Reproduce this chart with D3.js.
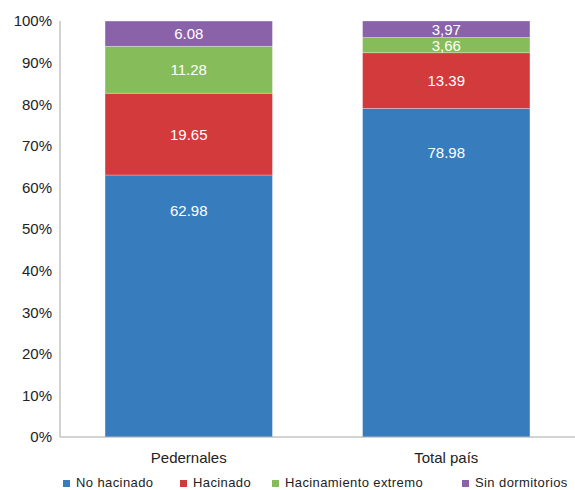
<!DOCTYPE html>
<html><head><meta charset="utf-8">
<script src="https://cdn.jsdelivr.net/npm/d3@7"></script>
<style>body{margin:0;background:#fff}svg{display:block}text{font-family:"Liberation Sans",Arial,sans-serif}</style>
</head><body>
<svg id="c" width="575" height="490"></svg>
<script>
const categories = ["Pedernales", "Total país"];
const seriesNames = ["No hacinado", "Hacinado", "Hacinamiento extremo", "Sin dormitorios"];
const noHacinado = [62.98, 78.98];
const hacinado = [19.65, 13.39];
const hacinamientoExtremo = [11.28, 3.66];
const sinDormitorios = [6.08, 3.97];
const labelText = [["62.98","19.65","11.28","6.08"],["78.98","13.39","3,66","3,97"]];
const yTicks = [0,10,20,30,40,50,60,70,80,90,100];
const colors = ["#377dbe", "#d23a3b", "#86bd5a", "#8a62aa"];
// relative position of the value label within each series' segment (0 = bottom, 1 = top)
const labelFrac = [0.865, 0.5, 0.5, 0.5];

(function(){
const svg = d3.select("#c");
const mLeft = 60, mRight = 575, mTop = 21, mBottom = 437;
const x = d3.scaleBand().domain(categories).range([mLeft, mRight]).paddingInner(0.35).paddingOuter(0.175);
const y = d3.scaleLinear().domain([0, 100]).range([mBottom, mTop]);

const rows = categories.map((c, i) => ({cat: c, "No hacinado": noHacinado[i], "Hacinado": hacinado[i], "Hacinamiento extremo": hacinamientoExtremo[i], "Sin dormitorios": sinDormitorios[i], idx: i}));
const stack = d3.stack().keys(seriesNames)(rows);

stack.forEach((layer, si) => {
  const g = svg.append("g");
  layer.forEach(d => {
    const t = Math.min(d[1], 100);
    g.append("rect").attr("x", x(d.data.cat)).attr("width", x.bandwidth())
      .attr("y", y(t)).attr("height", y(d[0]) - y(t))
      .attr("fill", colors[si]).attr("stroke", "rgba(255,255,255,0.35)").attr("stroke-width", 0.8);
    g.append("text").attr("x", x(d.data.cat) + x.bandwidth()/2)
      .attr("y", y(d[0] + (t - d[0]) * labelFrac[si])).attr("dy", "0.36em")
      .attr("text-anchor", "middle").attr("fill", "#fff").attr("font-size", 15)
      .text(labelText[d.data.idx][si]);
  });
});

svg.append("line").attr("x1", mLeft).attr("x2", mLeft).attr("y1", mTop).attr("y2", mBottom).attr("stroke", "#a6a6a6");
svg.append("line").attr("x1", mLeft).attr("x2", mRight).attr("y1", mBottom).attr("y2", mBottom).attr("stroke", "#a6a6a6");
svg.append("g").selectAll("text").data(yTicks).join("text")
  .attr("x", 52).attr("y", d => y(d)).attr("dy", "0.36em").attr("text-anchor", "end")
  .attr("font-size", 15).attr("fill", "#222").text(d => d + "%");
svg.append("g").selectAll("text").data(categories).join("text")
  .attr("x", d => x(d) + x.bandwidth()/2).attr("y", 458).attr("dy", "0.36em").attr("text-anchor", "middle")
  .attr("font-size", 15).attr("fill", "#222").text(d => d);

const legX = [63, 180, 272, 462];
const lg = svg.append("g");
seriesNames.forEach((s, i) => {
  lg.append("rect").attr("x", legX[i]).attr("y", 480).attr("width", 7).attr("height", 7).attr("fill", colors[i]);
  lg.append("text").attr("x", legX[i] + 13).attr("y", 483).attr("dy", "0.34em").attr("font-size", 13)
    .attr("letter-spacing", 0.4).attr("fill", "#222").text(s);
});
})();
</script>
</body></html>
